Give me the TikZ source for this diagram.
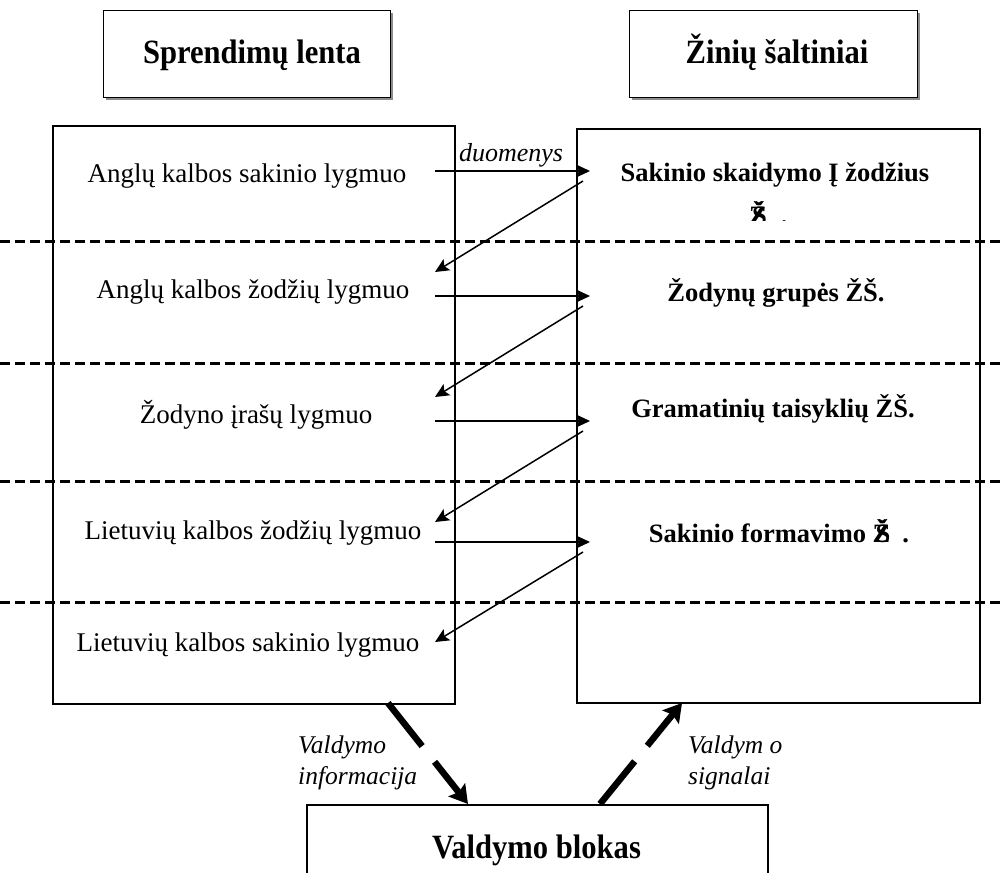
\documentclass[tikz,border=0pt]{standalone}
\usepackage{fontspec}
\setmainfont{Liberation Serif}
\usetikzlibrary{arrows.meta}

% overlapped "ZS" abbreviation as it is printed in the scheme
\newcommand{\zsmark}{\rlap{Ž}\kern3pt Š}

\begin{document}
\begin{tikzpicture}[x=1pt,y=-1pt,
  frame/.style={draw, line width=1.6pt, inner sep=0pt},
  titlebox/.style={draw, line width=1.4pt, fill=white, inner sep=0pt},
  shade/.style={fill=black!45, draw=none, inner sep=0pt},
  titletext/.style={font=\bfseries\fontsize{34}{40}\selectfont, inner sep=0pt, xscale=0.9, anchor=mid},
  level/.style={font=\fontsize{27}{32}\selectfont, inner sep=0pt, anchor=mid},
  source/.style={font=\bfseries\fontsize{26.5}{31}\selectfont, inner sep=0pt, anchor=mid},
  note/.style={font=\itshape\fontsize{25.5}{31}\selectfont, inner sep=0pt, align=left},
  sep/.style={line width=3pt, dash pattern=on 10pt off 5pt},
  flow/.style={line width=1.5pt, -{Stealth[length=14pt,width=13pt,inset=3pt]}},
  ctrl/.style={line width=6.5pt, dash pattern=on 55pt off 20pt,
               -{Stealth[length=18pt,width=21pt,inset=3pt]}}]

\useasboundingbox (0,0) rectangle (1002,873);
\clip (0,0) rectangle (1002,873);

% ---------- title boxes with a light drop shadow ----------
\node[shade, minimum width=287pt, minimum height=87pt, anchor=north west] at (105.5,12.5) {};
\node[titlebox, minimum width=287pt, minimum height=87pt, anchor=north west] (boardtitle) at (103,10) {};
\node[titletext] (boardname) at (252,61) {Sprendimų lenta};

\node[shade, minimum width=288pt, minimum height=87pt, anchor=north west] at (631.5,12.5) {};
\node[titlebox, minimum width=288pt, minimum height=87pt, anchor=north west] (srctitle) at (629,10) {};
\node[titletext] (srcname) at (777,61) {Žinių šaltiniai};

% ---------- main blocks ----------
\node[frame, minimum width=402pt, minimum height=578pt, anchor=north west] (board) at (52,125) {};
\node[frame, minimum width=403pt, minimum height=574pt, anchor=north west] (sources) at (576,128) {};

% ---------- level separators ----------
\foreach \y in {241,363,481,602}
  \draw[sep] (0,\y) -- (1002,\y);

% ---------- blackboard levels ----------
\node[level] (l1) at (247,180) {Anglų kalbos sakinio lygmuo};
\node[level] (l2) at (253,296) {Anglų kalbos žodžių lygmuo};
\node[level] (l3) at (256,421) {Žodyno įrašų lygmuo};
\node[level] (l4) at (253,537) {Lietuvių kalbos žodžių lygmuo};
\node[level] (l5) at (248,649) {Lietuvių kalbos sakinio lygmuo};

% ---------- knowledge sources ----------
\node[source] (k1) at (775,179) {Sakinio skaidymo Į žodžius};
\begin{scope}
  \clip (600,190) rectangle (960,220.5);
  \node[source, anchor=base west] (k1b) at (749,224) {\zsmark\hspace{14pt}.};
\end{scope}
\node[source] (k2) at (776,299) {Žodynų grupės ŽŠ.};
\node[source] (k3) at (773,415) {Gramatinių taisyklių ŽŠ.};
\node[source] (k4) at (779,540) {Sakinio formavimo \zsmark\hspace{12pt}.};

% ---------- data flow endpoints ----------
\foreach \i/\ya/\yb/\yc in {1/171/181/272, 2/296/306/397, 3/421/431/522, 4/542/552/642} {
  \coordinate (out\i) at (435,\ya);
  \coordinate (in\i)  at (590,\ya);
  \coordinate (back\i) at (583,\yb);
  \coordinate (ret\i) at (435,\yc);
}
\foreach \i in {1,...,4} {
  \draw[flow] (out\i) -- (in\i);
  \draw[flow] (back\i) -- (ret\i);
}
\node[font=\itshape\fontsize{26}{31}\selectfont, inner sep=0pt, anchor=mid] (data) at (511,159) {duomenys};

% ---------- control unit ----------
\node[frame, minimum width=461pt, minimum height=120pt, anchor=north west] (unit) at (306,804) {};
\node[titletext] (unitname) at (536.5,856) {Valdymo blokas};

\coordinate (infoout) at (388,703);
\coordinate (infoin)  at (468,804);
\coordinate (sigout)  at (600,804);
\coordinate (sigin)   at (682,703);
\draw[ctrl] (infoout) -- (infoin);
\draw[ctrl] (sigout) -- (sigin);

\node[note, anchor=base west] (infolabel) at (298,784) {Valdymo\\informacija};
\node[note, anchor=base west] (siglabel) at (688,784) {Valdym o\\signalai};

\end{tikzpicture}
\end{document}
